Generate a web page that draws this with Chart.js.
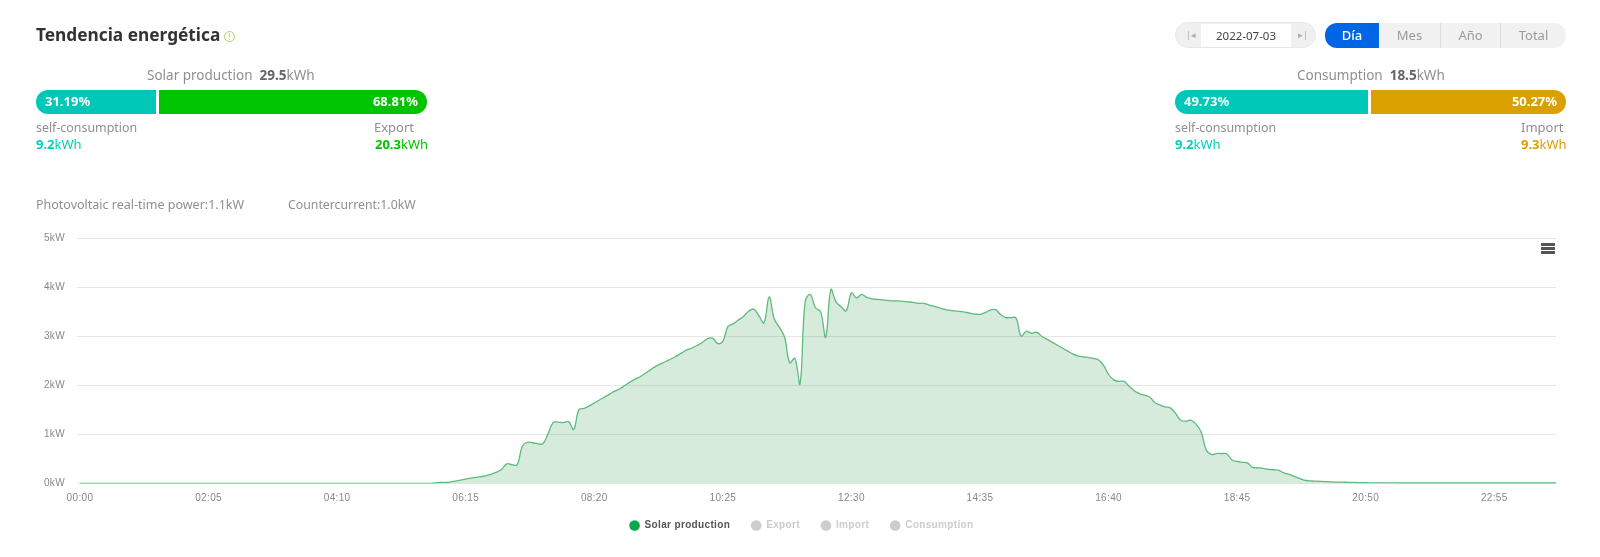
<!DOCTYPE html>
<html lang="es"><head><meta charset="utf-8">
<title>Tendencia energética</title>
<script src="https://cdn.jsdelivr.net/npm/chart.js@4/dist/chart.umd.min.js"></script>
<style>
html,body{margin:0;padding:0;background:#fff;width:1600px;height:557px;overflow:hidden;font-family:"Noto Sans",sans-serif;}
#wrap{position:relative;width:1600px;height:557px;}
canvas{position:absolute;left:0;top:0;}
.t{position:absolute;white-space:nowrap;font-size:13px;line-height:16px;color:#8f8f8f;}
.t b{font-weight:700;}
.bar{position:absolute;height:24px;top:90px;color:#fff;font-weight:700;font-size:13px;line-height:23px;box-sizing:border-box;}
.seg{position:absolute;height:25px;top:23px;line-height:24px;text-align:center;font-size:13px;color:#9a9a9a;background:#f1f1f1;box-sizing:border-box;}
.burger{position:absolute;left:1541px;width:14px;height:2.5px;background:#555;}
</style></head>
<body><div id="wrap">
<canvas id="c" width="1600" height="557"></canvas>
<div class="t" style="left:36px;top:23px;font-size:17.3px;line-height:24px;font-weight:700;color:#333">Tendencia energética</div>
<div style="position:absolute;left:224px;top:31px;width:9px;height:9px;border:1px solid #a5d46a;border-radius:50%;color:#a5d46a;font-size:8px;line-height:9px;text-align:center">!</div>

<div class="t" style="left:147px;top:67px;font-size:13.5px">Solar production&nbsp;&nbsp;<b style="color:#666">29.5</b>kWh</div>
<div class="bar" style="left:36px;width:120px;background:#00c8b8;border-radius:12px 0 0 12px;padding-left:9px">31.19%</div>
<div class="bar" style="left:159px;width:268px;background:#00c400;border-radius:0 12px 12px 0;text-align:right;padding-right:9px">68.81%</div>
<div class="t" style="left:36px;top:120px;font-size:12.4px">self-consumption</div>
<div class="t" style="left:36px;top:136px;color:#00d0bd"><b>9.2</b>kWh</div>
<div class="t" style="left:374px;top:119px">Export</div>
<div class="t" style="left:375px;top:136px;color:#00c400"><b>20.3</b>kWh</div>

<div class="t" style="left:36px;top:197px;font-size:12.5px">Photovoltaic real-time power:1.1kW</div>
<div class="t" style="left:288px;top:197px;font-size:12.3px">Countercurrent:1.0kW</div>

<div style="position:absolute;left:1175px;top:22px;width:141px;height:26px;background:#f0f0f0;border-radius:13px;box-sizing:border-box;border:1px solid #e8e8e8"></div>
<div class="t" style="left:1201px;top:24px;width:90px;height:23px;background:#fff;text-align:center;line-height:23px;font-size:11.5px;color:#444">2022-07-03</div>
<div class="t" style="left:1186px;top:27px;font-size:9px;color:#aaa">|◂</div>
<div class="t" style="left:1298px;top:27px;font-size:9px;color:#aaa">▸|</div>

<div class="seg" style="left:1325px;width:54px;background:#0066e6;color:#fff;border-radius:12px 0 0 12px;font-weight:500">Día</div>
<div class="seg" style="left:1379px;width:62px;border-right:1px solid #ddd">Mes</div>
<div class="seg" style="left:1441px;width:60px;border-right:1px solid #ddd">Año</div>
<div class="seg" style="left:1501px;width:65px;border-radius:0 12px 12px 0">Total</div>

<div class="t" style="left:1297px;top:67px;font-size:13.5px">Consumption&nbsp;&nbsp;<b style="color:#666">18.5</b>kWh</div>
<div class="bar" style="left:1175px;width:193px;background:#00c8b8;border-radius:12px 0 0 12px;padding-left:9px">49.73%</div>
<div class="bar" style="left:1371px;width:195px;background:#d9a000;border-radius:0 12px 12px 0;text-align:right;padding-right:9px">50.27%</div>
<div class="t" style="left:1175px;top:120px;font-size:12.4px">self-consumption</div>
<div class="t" style="left:1175px;top:136px;color:#00d0bd"><b>9.2</b>kWh</div>
<div class="t" style="left:1521px;top:119px">Import</div>
<div class="t" style="left:1521px;top:136px;color:#d9a000"><b>9.3</b>kWh</div>

<div class="burger" style="top:243px"></div><div class="burger" style="top:247px"></div><div class="burger" style="top:251px"></div>
</div>
<script>
const seriesNames = ['Solar production','Export','Import','Consumption'];
const yTickValues = [0,1,2,3,4,5];
const xTickLabels = ['00:00','02:05','04:10','06:15','08:20','10:25','12:30','14:35','16:40','18:45','20:50','22:55'];
const solarProduction = [
0,0,0,0,0,0,0,0,0,0,0,0,
0,0,0,0,0,0,0,0,0,0,0,0,
0,0,0,0,0,0,0,0,0,0,0,0,
0,0,0,0,0,0,0,0,0,0,0,0,
0,0,0,0,0,0,0,0,0,0,0,0,
0,0,0,0,0,0,0,0,0,0.01,
0.02,0.02,0.03,0.05,0.07,0.09,0.11,0.125,0.14,0.16,
0.19,0.23,0.29,0.40,0.385,0.38,0.76,0.84,0.83,0.81,
0.81,1.01,1.24,1.25,1.24,1.26,1.10,1.50,1.53,1.58,
1.64,1.70,1.76,1.82,1.88,1.93,2.00,2.07,2.13,2.18,
2.25,2.32,2.39,2.44,2.49,2.54,2.60,2.66,2.72,2.76,
2.81,2.87,2.95,2.96,2.85,2.90,3.20,3.25,3.33,3.40,
3.51,3.55,3.42,3.27,3.80,3.35,3.18,2.98,2.46,2.55,
2.03,3.70,3.85,3.58,3.50,2.98,3.95,3.70,3.60,3.52,
3.88,3.78,3.85,3.79,3.76,3.75,3.74,3.73,3.72,3.72,
3.71,3.70,3.69,3.67,3.67,3.64,3.61,3.58,3.55,3.53,
3.515,3.505,3.49,3.47,3.45,3.445,3.48,3.53,3.54,3.44,
3.38,3.38,3.37,3.00,3.10,3.06,3.08,3.00,2.94,2.88,
2.82,2.76,2.70,2.64,2.60,2.58,2.57,2.55,2.52,2.41,
2.22,2.11,2.08,2.08,1.98,1.89,1.83,1.80,1.76,1.65,
1.60,1.56,1.54,1.43,1.29,1.27,1.29,1.21,1.05,0.68,
0.59,0.61,0.61,0.60,0.48,0.45,0.43,0.42,0.33,0.32,
0.31,0.29,0.28,0.27,0.22,0.19,0.15,0.11,0.07,0.055,
0.05,0.045,0.04,0.035,0.03,0.027,0.025,0.022,0.02,0.018,
0.015,0.014,0.013,0.012,0.012,0.011,0.011,0.01,0.01,0.01,
0.01,0.01,0.01,0.01,0.01,0.01,0.01,0.01,0.01,0.01,
0.01,0.01,0.01,0.01,0.01,0.01,0.01,0.01,0.01,0.01,
0.01,0.01,0.01,0.01,0.01,0.01,0.01,0.01
];
const exportPower = [];
const importPower = [];
const consumptionPower = [];
const categories = solarProduction.map((_, i) => {
  const m = i * 5;
  return String(Math.floor(m / 60)).padStart(2, '0') + ':' + String(m % 60).padStart(2, '0');
});
const spacing = {
  id: 'spacing',
  beforeLayout(c) { c.ctx.letterSpacing = '0.35px'; },
  beforeDraw(c) { c.ctx.letterSpacing = '0.35px'; },
  afterLayout(c) { c.scales.x.bottom = c.scales.x.top + 26; }
};
const legendColors = ['#0aa84a', '#cccccc', '#cccccc', '#cccccc'];
const legendText = ['#555555', '#cccccc', '#cccccc', '#cccccc'];
new Chart(document.getElementById('c'), {
  type: 'line',
  plugins: [spacing],
  data: {
    labels: categories,
    datasets: [
      { label: seriesNames[0], data: solarProduction, borderColor: '#5cbb7c', borderWidth: 1.3,
        backgroundColor: 'rgba(0,130,40,0.155)', fill: 'origin', pointRadius: 0, tension: 0.4 },
      { label: seriesNames[1], data: exportPower, hidden: true },
      { label: seriesNames[2], data: importPower, hidden: true },
      { label: seriesNames[3], data: consumptionPower, hidden: true }
    ]
  },
  options: {
    responsive: false, animation: false,
    layout: { padding: { left: 3, right: 0, top: 238, bottom: 16.5 } },
    scales: {
      x: {
        border: { display: false }, grid: { display: false, drawTicks: false },
        afterFit(s) { s.height = 16; },
        ticks: {
          autoSkip: false, maxRotation: 0, minRotation: 0, padding: 9,
          font: { family: 'Liberation Sans', size: 10 }, color: '#888888',
          callback(v, i) { return i % 25 === 0 ? xTickLabels[i / 25] : ''; }
        }
      },
      y: {
        min: 0, max: 5,
        border: { display: false },
        afterFit(s) { s.width = 77; },
        afterBuildTicks(s) { s.ticks = yTickValues.map(v => ({ value: v })); },
        grid: { color: '#e6e6e6', lineWidth: 1, tickLength: 3 },
        ticks: {
          padding: 12, font: { family: 'Liberation Sans', size: 10 }, color: '#888888',
          callback(v) { return v + 'kW'; }
        }
      },
      rightGutter: {
        type: 'linear', position: 'right', min: 0, max: 5,
        border: { display: false }, grid: { display: false },
        ticks: { display: false },
        afterFit(s) { s.width = 44; }
      }
    },
    plugins: {
      tooltip: { enabled: false },
      legend: {
        position: 'bottom', align: 'center',
        labels: {
          usePointStyle: true, boxWidth: 11, boxHeight: 7.5, padding: 21,
          font: { family: 'Liberation Sans', size: 10, weight: 'bold' },
          generateLabels(ch) {
            return ch.data.datasets.map((d, i) => ({
              text: d.label, datasetIndex: i, hidden: false, pointStyle: 'circle',
              fillStyle: legendColors[i], strokeStyle: legendColors[i], lineWidth: 0,
              fontColor: legendText[i]
            }));
          }
        }
      }
    }
  }
});
</script>
</body></html>
